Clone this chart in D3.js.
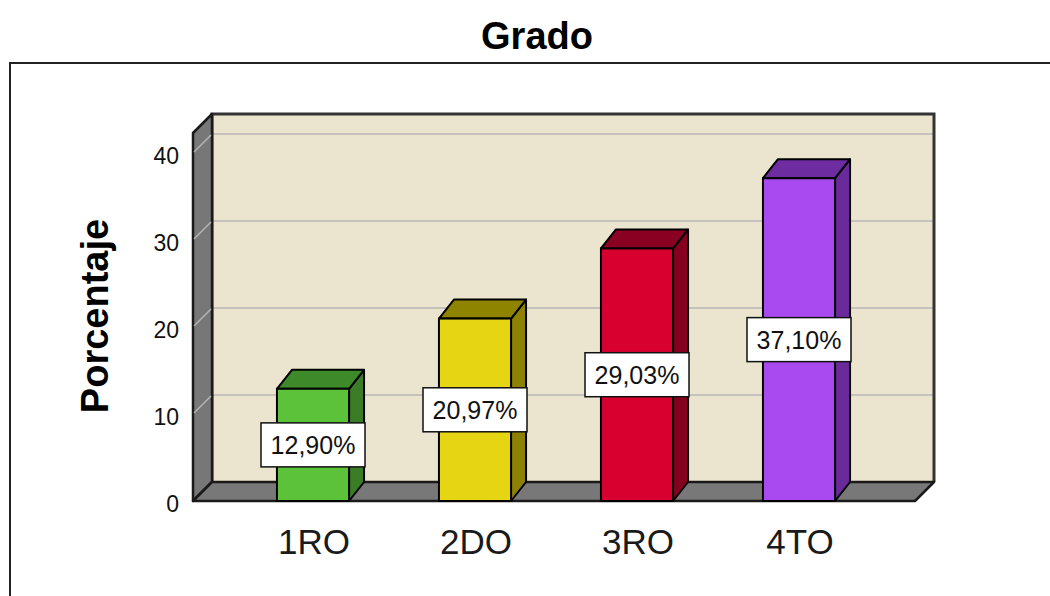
<!DOCTYPE html>
<html>
<head>
<meta charset="utf-8">
<script src="https://cdn.jsdelivr.net/npm/d3@7"></script>
<style>
  body { margin: 0; background: #fff; }
  svg { display: block; font-family: Arial, "Liberation Sans", sans-serif; }
</style>
</head>
<body>
<div id="chart"></div>
<script>
//chart data
const categories = ['1RO', '2DO', '3RO', '4TO'];
const percentages = [12.90, 20.97, 29.03, 37.10];
const valueLabels = ['12,90%', '20,97%', '29,03%', '37,10%'];
const tickValues = [0, 10, 20, 30, 40];

//bar colours (front, side, top)
const frontColors = ['#5cc23a', '#e5d513', '#d7002f', '#a84af0'];
const sideColors = ['#3a7d26', '#8c8100', '#85001f', '#6a2a9b'];
const topColors = ['#3e8a2a', '#8f8400', '#8a0022', '#6e2ca1'];

const W = 1050, H = 596;
const svg = d3.select('#chart').append('svg').attr('width', W).attr('height', H);

//front plane geometry
const x0 = 193, x1 = 915;     //floor front left/right
const wdx = 19, wdy = 19;     //wall depth offset
const bdx = 15, bdy = 19;     //bar depth offset

const x = d3.scaleBand().domain(categories).range([232, 880])
    .paddingInner(0.555).paddingOuter(0.2775);
const y = d3.scaleLinear().domain([0, 42.3]).range([501, 133]);

//outer frame
svg.append('path')
    .attr('d', `M10,${H} L10,63 L${W},63`)
    .attr('fill', 'none').attr('stroke', '#222').attr('stroke-width', 2);

//title
svg.append('text')
    .attr('x', 537).attr('y', 49)
    .attr('text-anchor', 'middle')
    .style('font-size', '38px').style('font-weight', 'bold')
    .text('Grado');

//back wall
const yTop = y(42.3) - wdy, yBot = y(0) - wdy;
svg.append('rect')
    .attr('x', x0 + wdx).attr('y', yTop)
    .attr('width', (x1 + wdx) - (x0 + wdx)).attr('height', yBot - yTop)
    .attr('fill', '#ebe4cf');

//gridlines on back wall
svg.selectAll('.grid').data(tickValues.filter(d => d > 0)).enter()
    .append('line')
    .attr('x1', x0 + wdx).attr('x2', x1 + wdx)
    .attr('y1', d => y(d) - wdy).attr('y2', d => y(d) - wdy)
    .attr('stroke', '#c4c2bb').attr('stroke-width', 2);

//back wall border
svg.append('path')
    .attr('d', `M${x0 + wdx},${yBot} L${x0 + wdx},${yTop} L${x1 + wdx},${yTop} L${x1 + wdx},${yBot}`)
    .attr('fill', 'none').attr('stroke', '#333').attr('stroke-width', 3);

//left side wall
svg.append('path')
    .attr('d', `M${x0},${y(0)} L${x0},${y(42.3)} L${x0 + wdx},${yTop} L${x0 + wdx},${yBot} Z`)
    .attr('fill', '#777').attr('stroke', '#1a1a1a').attr('stroke-width', 2.5)
    .attr('stroke-linejoin', 'round');

//gridlines on side wall
svg.selectAll('.sgrid').data(tickValues.filter(d => d > 0)).enter()
    .append('line')
    .attr('x1', x0 + 1).attr('x2', x0 + wdx - 1)
    .attr('y1', d => y(d) - 1).attr('y2', d => y(d) - wdy + 1)
    .attr('stroke', '#b5b5b5').attr('stroke-width', 1.5);

//floor
svg.append('path')
    .attr('d', `M${x0},${y(0)} L${x0 + wdx},${yBot} L${x1 + wdx},${yBot} L${x1},${y(0)} Z`)
    .attr('fill', '#787878').attr('stroke', '#1a1a1a').attr('stroke-width', 2.5)
    .attr('stroke-linejoin', 'round');

//bars
const bars = svg.selectAll('.bar').data(categories).enter()
    .append('g').attr('class', 'bar');

const bw = x.bandwidth();

bars.append('path') //side face
    .attr('d', (d, i) => {
        const l = x(d) + bw, t = y(percentages[i]), b = y(0);
        return `M${l},${t} L${l + bdx},${t - bdy} L${l + bdx},${b - bdy} L${l},${b} Z`;
    })
    .attr('fill', (d, i) => sideColors[i])
    .attr('stroke', '#000').attr('stroke-width', 2).attr('stroke-linejoin', 'round');

bars.append('path') //top face
    .attr('d', (d, i) => {
        const l = x(d), t = y(percentages[i]);
        return `M${l},${t} L${l + bdx},${t - bdy} L${l + bw + bdx},${t - bdy} L${l + bw},${t} Z`;
    })
    .attr('fill', (d, i) => topColors[i])
    .attr('stroke', '#000').attr('stroke-width', 2).attr('stroke-linejoin', 'round');

bars.append('rect') //front face
    .attr('x', d => x(d))
    .attr('y', (d, i) => y(percentages[i]))
    .attr('width', bw)
    .attr('height', (d, i) => y(0) - y(percentages[i]))
    .attr('fill', (d, i) => frontColors[i])
    .attr('stroke', '#000').attr('stroke-width', 2);

//value labels
const labels = svg.selectAll('.vlabel').data(categories).enter()
    .append('g').attr('class', 'vlabel')
    .attr('transform', (d, i) => `translate(${x(d) + bw / 2},${y(percentages[i] / 2)})`);

labels.append('rect')
    .attr('x', -52).attr('y', -22).attr('width', 104).attr('height', 44)
    .attr('fill', '#fff').attr('stroke', '#111').attr('stroke-width', 1.5);

labels.append('text')
    .attr('text-anchor', 'middle').attr('dy', '0.36em')
    .style('font-size', '25px').attr('fill', '#111')
    .text((d, i) => valueLabels[i]);

//y axis ticks
const yAxis = svg.append('g')
    .attr('transform', `translate(${x0},3)`)
    .call(d3.axisLeft(y).tickValues(tickValues).tickSize(0).tickPadding(14));
yAxis.select('.domain').remove();
yAxis.selectAll('text')
    .style('font-size', '23px').style('font-family', 'Arial, "Liberation Sans", sans-serif')
    .attr('fill', '#111');

//x axis category labels
svg.selectAll('.cat').data(categories).enter()
    .append('text')
    .attr('x', d => x(d) + bw / 2 + 1)
    .attr('y', 554)
    .attr('text-anchor', 'middle')
    .style('font-size', '35px').attr('fill', '#1a1a1a')
    .text(d => d);

//y axis title
svg.append('text')
    .attr('transform', 'translate(108,316) rotate(-90)')
    .attr('text-anchor', 'middle')
    .style('font-size', '38px').style('font-weight', 'bold')
    .text('Porcentaje');
</script>
</body>
</html>
